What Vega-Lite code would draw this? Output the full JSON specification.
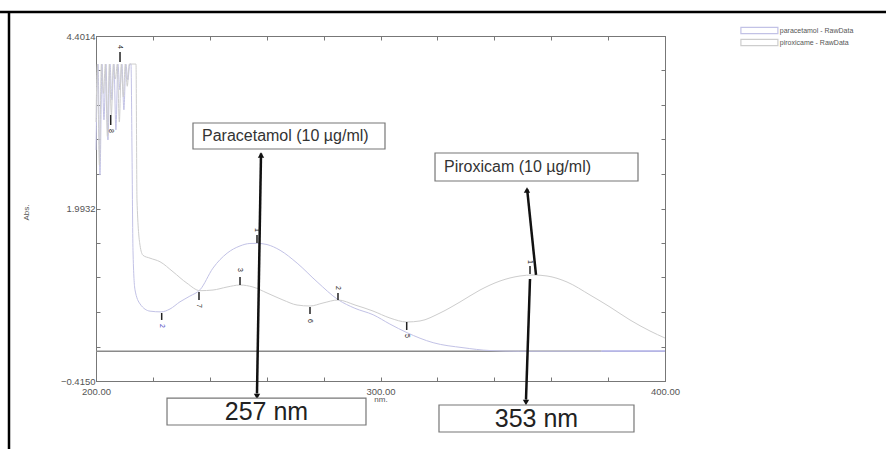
{
  "$schema": "https://vega.github.io/schema/vega-lite/v6.json",
  "width": 569,
  "height": 345,
  "autosize": {"type": "none"},
  "padding": {"left": 96, "top": 36, "right": 221, "bottom": 68},
  "background": "white",
  "config": {
    "view": {"stroke": "#777", "strokeWidth": 1},
    "font": "Liberation Sans",
    "text": {"font": "Liberation Sans"}
  },
  "datasets": {
    "spectra": [
      {"series": "paracetamol - RawData", "nm": 200.0, "abs": 2.81},
      {"series": "paracetamol - RawData", "nm": 200.7, "abs": 4.01},
      {"series": "paracetamol - RawData", "nm": 201.4, "abs": 2.46},
      {"series": "paracetamol - RawData", "nm": 202.1, "abs": 4.01},
      {"series": "paracetamol - RawData", "nm": 202.8, "abs": 3.23},
      {"series": "paracetamol - RawData", "nm": 203.5, "abs": 4.01},
      {"series": "paracetamol - RawData", "nm": 204.2, "abs": 2.95},
      {"series": "paracetamol - RawData", "nm": 204.9, "abs": 4.01},
      {"series": "paracetamol - RawData", "nm": 205.6, "abs": 3.51},
      {"series": "paracetamol - RawData", "nm": 206.3, "abs": 4.01},
      {"series": "paracetamol - RawData", "nm": 207.0, "abs": 3.09},
      {"series": "paracetamol - RawData", "nm": 207.7, "abs": 4.01},
      {"series": "paracetamol - RawData", "nm": 208.4, "abs": 3.65},
      {"series": "paracetamol - RawData", "nm": 209.1, "abs": 4.01},
      {"series": "paracetamol - RawData", "nm": 209.8, "abs": 3.37},
      {"series": "paracetamol - RawData", "nm": 210.5, "abs": 4.01},
      {"series": "paracetamol - RawData", "nm": 211.2, "abs": 3.79},
      {"series": "paracetamol - RawData", "nm": 211.9, "abs": 4.01},
      {"series": "paracetamol - RawData", "nm": 212.3, "abs": 4.01},
      {"series": "paracetamol - RawData", "nm": 212.65, "abs": 2.81},
      {"series": "paracetamol - RawData", "nm": 213.0, "abs": 1.41},
      {"series": "paracetamol - RawData", "nm": 213.7, "abs": 0.86},
      {"series": "paracetamol - RawData", "nm": 215.5, "abs": 0.66},
      {"series": "paracetamol - RawData", "nm": 219.0, "abs": 0.56},
      {"series": "paracetamol - RawData", "nm": 222.9, "abs": 0.55},
      {"series": "paracetamol - RawData", "nm": 226.0, "abs": 0.59},
      {"series": "paracetamol - RawData", "nm": 229.5, "abs": 0.69},
      {"series": "paracetamol - RawData", "nm": 233.0, "abs": 0.77},
      {"series": "paracetamol - RawData", "nm": 236.6, "abs": 0.86},
      {"series": "paracetamol - RawData", "nm": 241.1, "abs": 1.16},
      {"series": "paracetamol - RawData", "nm": 246.1, "abs": 1.37},
      {"series": "paracetamol - RawData", "nm": 250.6, "abs": 1.47},
      {"series": "paracetamol - RawData", "nm": 254.1, "abs": 1.505},
      {"series": "paracetamol - RawData", "nm": 256.6, "abs": 1.507},
      {"series": "paracetamol - RawData", "nm": 260.1, "abs": 1.49},
      {"series": "paracetamol - RawData", "nm": 264.7, "abs": 1.41},
      {"series": "paracetamol - RawData", "nm": 270.7, "abs": 1.23},
      {"series": "paracetamol - RawData", "nm": 277.7, "abs": 0.97},
      {"series": "paracetamol - RawData", "nm": 285.1, "abs": 0.72},
      {"series": "paracetamol - RawData", "nm": 291.0, "abs": 0.6},
      {"series": "paracetamol - RawData", "nm": 297.4, "abs": 0.51},
      {"series": "paracetamol - RawData", "nm": 303.3, "abs": 0.38},
      {"series": "paracetamol - RawData", "nm": 309.3, "abs": 0.26},
      {"series": "paracetamol - RawData", "nm": 318.5, "abs": 0.12},
      {"series": "paracetamol - RawData", "nm": 329.0, "abs": 0.05},
      {"series": "paracetamol - RawData", "nm": 338.5, "abs": 0.01},
      {"series": "paracetamol - RawData", "nm": 349.0, "abs": 0.0},
      {"series": "paracetamol - RawData", "nm": 400.0, "abs": 0.0},
      {"series": "piroxicame - RawData", "nm": 200.0, "abs": 3.2},
      {"series": "piroxicame - RawData", "nm": 200.5, "abs": 4.01},
      {"series": "piroxicame - RawData", "nm": 201.2, "abs": 2.6},
      {"series": "piroxicame - RawData", "nm": 201.9, "abs": 4.01},
      {"series": "piroxicame - RawData", "nm": 202.6, "abs": 3.6},
      {"series": "piroxicame - RawData", "nm": 203.3, "abs": 4.01},
      {"series": "piroxicame - RawData", "nm": 204.0, "abs": 3.0},
      {"series": "piroxicame - RawData", "nm": 204.7, "abs": 4.01},
      {"series": "piroxicame - RawData", "nm": 205.4, "abs": 3.3},
      {"series": "piroxicame - RawData", "nm": 206.1, "abs": 4.01},
      {"series": "piroxicame - RawData", "nm": 206.8, "abs": 3.8},
      {"series": "piroxicame - RawData", "nm": 207.5, "abs": 4.01},
      {"series": "piroxicame - RawData", "nm": 208.2, "abs": 3.2},
      {"series": "piroxicame - RawData", "nm": 208.9, "abs": 4.01},
      {"series": "piroxicame - RawData", "nm": 209.6, "abs": 3.55},
      {"series": "piroxicame - RawData", "nm": 210.3, "abs": 4.01},
      {"series": "piroxicame - RawData", "nm": 211.0, "abs": 3.7},
      {"series": "piroxicame - RawData", "nm": 211.7, "abs": 4.01},
      {"series": "piroxicame - RawData", "nm": 213.0, "abs": 4.01},
      {"series": "piroxicame - RawData", "nm": 214.06, "abs": 4.01},
      {"series": "piroxicame - RawData", "nm": 214.41, "abs": 2.11},
      {"series": "piroxicame - RawData", "nm": 215.47, "abs": 1.48},
      {"series": "piroxicame - RawData", "nm": 216.52, "abs": 1.34},
      {"series": "piroxicame - RawData", "nm": 218.98, "abs": 1.3},
      {"series": "piroxicame - RawData", "nm": 222.5, "abs": 1.25},
      {"series": "piroxicame - RawData", "nm": 227.06, "abs": 1.11},
      {"series": "piroxicame - RawData", "nm": 231.99, "abs": 0.95},
      {"series": "piroxicame - RawData", "nm": 236.56, "abs": 0.846},
      {"series": "piroxicame - RawData", "nm": 241.12, "abs": 0.855},
      {"series": "piroxicame - RawData", "nm": 246.05, "abs": 0.897},
      {"series": "piroxicame - RawData", "nm": 250.62, "abs": 0.925},
      {"series": "piroxicame - RawData", "nm": 255.18, "abs": 0.897},
      {"series": "piroxicame - RawData", "nm": 260.11, "abs": 0.814},
      {"series": "piroxicame - RawData", "nm": 265.73, "abs": 0.716},
      {"series": "piroxicame - RawData", "nm": 270.65, "abs": 0.646},
      {"series": "piroxicame - RawData", "nm": 275.22, "abs": 0.632},
      {"series": "piroxicame - RawData", "nm": 279.79, "abs": 0.674},
      {"series": "piroxicame - RawData", "nm": 285.06, "abs": 0.716},
      {"series": "piroxicame - RawData", "nm": 291.04, "abs": 0.646},
      {"series": "piroxicame - RawData", "nm": 297.36, "abs": 0.562},
      {"series": "piroxicame - RawData", "nm": 303.34, "abs": 0.464},
      {"series": "piroxicame - RawData", "nm": 309.21, "abs": 0.409},
      {"series": "piroxicame - RawData", "nm": 313.88, "abs": 0.423},
      {"series": "piroxicame - RawData", "nm": 320.91, "abs": 0.534},
      {"series": "piroxicame - RawData", "nm": 327.94, "abs": 0.688},
      {"series": "piroxicame - RawData", "nm": 334.97, "abs": 0.855},
      {"series": "piroxicame - RawData", "nm": 342.0, "abs": 0.981},
      {"series": "piroxicame - RawData", "nm": 349.03, "abs": 1.051},
      {"series": "piroxicame - RawData", "nm": 353.6, "abs": 1.065},
      {"series": "piroxicame - RawData", "nm": 358.52, "abs": 1.051},
      {"series": "piroxicame - RawData", "nm": 365.55, "abs": 0.967},
      {"series": "piroxicame - RawData", "nm": 373.64, "abs": 0.786},
      {"series": "piroxicame - RawData", "nm": 380.67, "abs": 0.618},
      {"series": "piroxicame - RawData", "nm": 387.7, "abs": 0.437},
      {"series": "piroxicame - RawData", "nm": 394.73, "abs": 0.283},
      {"series": "piroxicame - RawData", "nm": 400.0, "abs": 0.185}
    ],
    "frame": [
      {"x": 166.26, "x2": 477.68, "y": 4.7365, "y2": 4.7365},
      {"x": 169.42, "x2": 169.42, "y": 4.7365, "y2": -1.4}
    ],
    "baseline": [{"x": 200, "x2": 377.7, "y": 0}],
    "baselineBlue": [{"x": 377.7, "x2": 400, "y": 0}],
    "arrows": [
      {"x": 258.0, "y": 2.76, "x2": 256.59, "y2": -0.59},
      {"x": 354.66, "y": 1.065, "x2": 351.55, "y2": 2.26},
      {"x": 352.55, "y": 1.009, "x2": 351.14, "y2": -0.675}
    ],
    "heads": [
      {"x": 258.0, "y": 2.74, "dir": "up"},
      {"x": 256.59, "y": -0.63, "dir": "down"},
      {"x": 351.49, "y": 2.25, "dir": "up"},
      {"x": 351.14, "y": -0.715, "dir": "down"}
    ],
    "topboxes": [
      {"x": 234.09, "x2": 301.58, "y": 3.187, "y2": 2.824, "tx": 237.26, "ty": 3.005, "text": "Paracetamol (10 µg/ml)"},
      {"x": 319.16, "x2": 390.51, "y": 2.768, "y2": 2.377, "tx": 322.32, "ty": 2.573, "text": "Piroxicam (10 µg/ml)"}
    ],
    "bottomboxes": [
      {"x": 224.96, "x2": 294.9, "y": -0.653, "y2": -1.029, "tx": 259.93, "ty": -0.841, "text": "257 nm"},
      {"x": 320.56, "x2": 389.1, "y": -0.75, "y2": -1.127, "tx": 354.83, "ty": -0.939, "text": "353 nm"}
    ],
    "markers": [
      {"nm": 208.44, "ly": 4.248, "a1": 4.178, "a2": 4.038, "label": "4"},
      {"nm": 205.17, "ly": 3.075, "a1": 3.299, "a2": 3.159, "label": "8"},
      {"nm": 223.09, "ly": 0.353, "a1": 0.534, "a2": 0.437, "label": "2"},
      {"nm": 236.2, "ly": 0.632, "a1": 0.828, "a2": 0.716, "label": "7"},
      {"nm": 250.62, "ly": 1.134, "a1": 1.037, "a2": 0.925, "label": "3"},
      {"nm": 256.59, "ly": 1.693, "a1": 1.623, "a2": 1.512, "label": "1"},
      {"nm": 275.22, "ly": 0.423, "a1": 0.618, "a2": 0.52, "label": "6"},
      {"nm": 285.06, "ly": 0.883, "a1": 0.814, "a2": 0.716, "label": "2"},
      {"nm": 309.21, "ly": 0.213, "a1": 0.409, "a2": 0.297, "label": "5"},
      {"nm": 352.55, "ly": 1.246, "a1": 1.19, "a2": 1.079, "label": "1"}
    ]
  },
  "layer": [
    {
      "data": {"name": "frame"},
      "mark": {"type": "rule", "color": "#000", "strokeWidth": 2.5, "clip": false},
      "encoding": {
        "x": {"field": "x", "type": "quantitative", "scale": {"domain": [200, 400], "nice": false, "zero": false}, "axis": null},
        "x2": {"field": "x2"},
        "y": {"field": "y", "type": "quantitative", "scale": {"domain": [-0.415, 4.4014], "nice": false, "zero": false}, "axis": null},
        "y2": {"field": "y2"}
      }
    },
    {
      "data": {"name": "baseline"},
      "mark": {"type": "rule", "color": "#8a8a8a", "strokeWidth": 1.3},
      "encoding": {
        "x": {"field": "x", "type": "quantitative", "scale": {"domain": [200, 400], "nice": false, "zero": false},
          "axis": {"orient": "top", "labels": false, "title": null, "grid": false, "values": [200, 220, 240, 260, 280, 300, 320, 340, 360, 380, 400], "tickSize": -4, "tickColor": "#777", "domainColor": "#777"}},
        "x2": {"field": "x2"},
        "y": {"field": "y", "type": "quantitative", "scale": {"domain": [-0.415, 4.4014], "nice": false, "zero": false},
          "axis": {"orient": "right", "labels": false, "title": null, "grid": false, "values": [-0.415, 0.06664, 0.54828, 1.02992, 1.51156, 1.9932, 2.47484, 2.95648, 3.43812, 3.91976, 4.4014], "tickSize": -4, "tickColor": "#777", "domainColor": "#777"}}
      }
    },
    {
      "data": {"name": "baselineBlue"},
      "mark": {"type": "rule", "color": "#8c8ce0", "strokeWidth": 1.3},
      "encoding": {
        "x": {"field": "x", "type": "quantitative", "scale": {"domain": [200, 400], "nice": false, "zero": false}, "axis": null},
        "x2": {"field": "x2"},
        "y": {"field": "y", "type": "quantitative", "scale": {"domain": [-0.415, 4.4014], "nice": false, "zero": false}, "axis": null}
      }
    },
    {
      "data": {"name": "spectra"},
      "mark": {"type": "line", "strokeWidth": 1, "interpolate": "monotone"},
      "encoding": {
        "x": {"field": "nm", "type": "quantitative", "scale": {"domain": [200, 400], "nice": false, "zero": false},
          "axis": {"title": "nm.", "grid": false, "values": [200, 220, 240, 260, 280, 300, 320, 340, 360, 380, 400],
            "labelExpr": "datum.value % 100 === 0 ? format(datum.value, '.2f') : ''",
            "tickSize": -4, "tickColor": "#777", "domainColor": "#777", "labelColor": "#555", "labelFontSize": 9.5, "labelFont": "Liberation Sans", "labelPadding": 9, "labelFlush": false,
            "titleFontSize": 8, "titleFontWeight": "normal", "titleColor": "#555", "titleFont": "Liberation Sans", "titlePadding": 0}},
        "y": {"field": "abs", "type": "quantitative", "scale": {"domain": [-0.415, 4.4014], "nice": false, "zero": false},
          "axis": {"title": "Abs.", "grid": false, "values": [-0.415, 0.06664, 0.54828, 1.02992, 1.51156, 1.9932, 2.47484, 2.95648, 3.43812, 3.91976, 4.4014],
            "labelExpr": "(abs(datum.value - 4.4014) < 0.001 || abs(datum.value - 1.9932) < 0.001 || abs(datum.value + 0.415) < 0.001) ? format(datum.value, '.4f') : ''",
            "tickSize": -4, "tickColor": "#777", "domainColor": "#777", "labelColor": "#555", "labelFontSize": 9.5, "labelFont": "Liberation Sans", "labelPadding": 5,
            "titleFontSize": 8, "titleFontWeight": "normal", "titleColor": "#555", "titleFont": "Liberation Sans", "titleX": -66, "titleY": 176}},
        "color": {"field": "series", "type": "nominal",
          "scale": {"domain": ["paracetamol - RawData", "piroxicame - RawData"], "range": ["#c2c2e6", "#cdcdcd"]},
          "legend": {"title": null, "orient": "none", "legendX": 659.4, "legendY": -9.5, "direction": "vertical",
            "symbolType": "M-6,-1H6V1H-6Z", "symbolSize": 38, "symbolStrokeWidth": 1.2, "rowPadding": 0,
            "labelFontSize": 7, "labelFont": "Liberation Sans", "labelColor": "#555", "labelOffset": 16.4, "labelLimit": 300}}
      }
    },
    {
      "data": {"name": "arrows"},
      "mark": {"type": "rule", "color": "#111", "strokeWidth": 2.5, "clip": false},
      "encoding": {
        "x": {"field": "x", "type": "quantitative", "scale": {"domain": [200, 400], "nice": false, "zero": false}, "axis": null},
        "x2": {"field": "x2"},
        "y": {"field": "y", "type": "quantitative", "scale": {"domain": [-0.415, 4.4014], "nice": false, "zero": false}, "axis": null},
        "y2": {"field": "y2"}
      }
    },
    {
      "data": {"name": "heads"},
      "mark": {"type": "point", "filled": true, "color": "#111", "size": 40, "opacity": 1, "clip": false},
      "encoding": {
        "x": {"field": "x", "type": "quantitative", "scale": {"domain": [200, 400], "nice": false, "zero": false}, "axis": null},
        "y": {"field": "y", "type": "quantitative", "scale": {"domain": [-0.415, 4.4014], "nice": false, "zero": false}, "axis": null},
        "shape": {"field": "dir", "type": "nominal", "scale": {"domain": ["up", "down"], "range": ["triangle-up", "triangle-down"]}, "legend": null}
      }
    },
    {
      "data": {"name": "markers"},
      "mark": {"type": "rule", "color": "#222", "strokeWidth": 1.5},
      "encoding": {
        "x": {"field": "nm", "type": "quantitative", "scale": {"domain": [200, 400], "nice": false, "zero": false}, "axis": null},
        "y": {"field": "a1", "type": "quantitative", "scale": {"domain": [-0.415, 4.4014], "nice": false, "zero": false}, "axis": null},
        "y2": {"field": "a2"}
      }
    },
    {
      "data": {"name": "markers"},
      "mark": {"type": "text", "angle": 90, "fontSize": 7, "align": "center", "baseline": "middle", "font": "Liberation Sans"},
      "encoding": {
        "x": {"field": "nm", "type": "quantitative", "scale": {"domain": [200, 400], "nice": false, "zero": false}, "axis": null},
        "y": {"field": "ly", "type": "quantitative", "scale": {"domain": [-0.415, 4.4014], "nice": false, "zero": false}, "axis": null},
        "text": {"field": "label"},
        "color": {"condition": {"test": "datum.label === '2' && datum.nm < 230", "value": "#4646c0"}, "value": "#222"}
      }
    },
    {
      "data": {"name": "topboxes"},
      "mark": {"type": "rect", "fill": "white", "stroke": "#777", "strokeWidth": 1.2, "clip": false},
      "encoding": {
        "x": {"field": "x", "type": "quantitative", "scale": {"domain": [200, 400], "nice": false, "zero": false}, "axis": null},
        "x2": {"field": "x2"},
        "y": {"field": "y", "type": "quantitative", "scale": {"domain": [-0.415, 4.4014], "nice": false, "zero": false}, "axis": null},
        "y2": {"field": "y2"}
      }
    },
    {
      "data": {"name": "topboxes"},
      "mark": {"type": "text", "fontSize": 16, "align": "left", "baseline": "middle", "color": "#333", "font": "Liberation Sans", "clip": false},
      "encoding": {
        "x": {"field": "tx", "type": "quantitative", "scale": {"domain": [200, 400], "nice": false, "zero": false}, "axis": null},
        "y": {"field": "ty", "type": "quantitative", "scale": {"domain": [-0.415, 4.4014], "nice": false, "zero": false}, "axis": null},
        "text": {"field": "text"}
      }
    },
    {
      "data": {"name": "bottomboxes"},
      "mark": {"type": "rect", "fill": "white", "stroke": "#777", "strokeWidth": 1.2, "clip": false},
      "encoding": {
        "x": {"field": "x", "type": "quantitative", "scale": {"domain": [200, 400], "nice": false, "zero": false}, "axis": null},
        "x2": {"field": "x2"},
        "y": {"field": "y", "type": "quantitative", "scale": {"domain": [-0.415, 4.4014], "nice": false, "zero": false}, "axis": null},
        "y2": {"field": "y2"}
      }
    },
    {
      "data": {"name": "bottomboxes"},
      "mark": {"type": "text", "fontSize": 25, "align": "center", "baseline": "middle", "color": "#222", "font": "Liberation Sans", "clip": false},
      "encoding": {
        "x": {"field": "tx", "type": "quantitative", "scale": {"domain": [200, 400], "nice": false, "zero": false}, "axis": null},
        "y": {"field": "ty", "type": "quantitative", "scale": {"domain": [-0.415, 4.4014], "nice": false, "zero": false}, "axis": null},
        "text": {"field": "text"}
      }
    }
  ],
  "resolve": {"axis": {"x": "independent", "y": "independent"}}
}
